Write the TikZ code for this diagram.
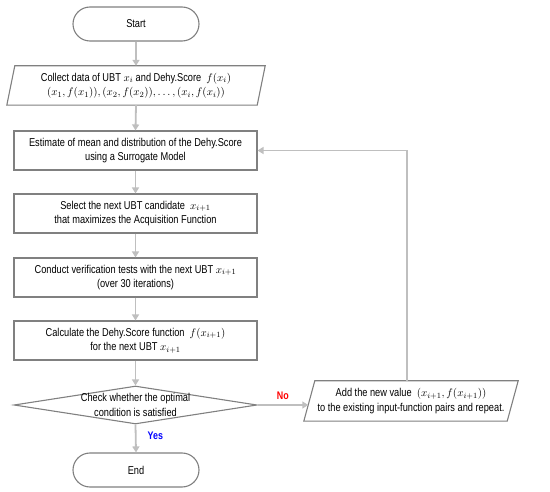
\documentclass[tikz,border=0pt]{standalone}
\usepackage{fontspec}
\setmainfont{Liberation Sans}[FakeStretch=0.81]
\usetikzlibrary{arrows.meta,shapes.geometric,calc}
\definecolor{boxgray}{RGB}{128,128,128}
\definecolor{arrgray}{RGB}{191,191,191}
\begin{document}
\begin{tikzpicture}[x=1pt,y=-1pt,
  every node/.style={font=\fontsize{11.4}{14.5}\selectfont, align=center, inner sep=0pt},
  procbox/.style={draw=boxgray, line width=1.1pt, minimum width=243pt, minimum height=39pt},
  termbox/.style={draw=boxgray, line width=1.1pt, minimum width=126pt, minimum height=34pt, rounded corners=17pt},
  databox/.style={minimum height=39pt},
  shapeline/.style={draw=boxgray, line width=1.1pt},
  flow/.style={draw=arrgray, line width=1.8pt, -{Triangle[width=7pt,length=6pt]}},
  decbox/.style={draw=boxgray, line width=1.1pt, shape=diamond, aspect=6.4, minimum width=243pt, minimum height=38pt},
  lbl/.style={font=\fontsize{11}{12}\selectfont\bfseries}
]
\useasboundingbox (0,0) rectangle (550,492);

\node[termbox] (start) at (136,24) {Start};

\node[databox, minimum width=250pt] (p1) at (136,85.5) {Collect data of UBT $x_i$ and Dehy.Score \ $f(x_i)$\\ $(x_1,f(x_1)),(x_2,f(x_2)),\ldots,(x_i,f(x_i))$};
\draw[shapeline] ([xshift=-4pt]p1.south west) -- ([xshift=4pt]p1.north west) -- ([xshift=4pt]p1.north east) -- ([xshift=-4pt]p1.south east) -- cycle;

\node[procbox] (r1) at (135.5,150.5) {Estimate of mean and distribution of the Dehy.Score\\ using a Surrogate Model};
\node[procbox] (r2) at (135.5,213.5) {Select the next UBT candidate \ $x_{i+1}$\\ that maximizes the Acquisition Function};
\node[procbox] (r3) at (135.5,277.5) {Conduct verification tests with the next UBT $x_{i+1}$\\ (over 30 iterations)};
\node[procbox] (r4) at (135.5,340.5) {Calculate the Dehy.Score function \ $f(x_{i+1})$\\ for the next UBT $x_{i+1}$};

\node[decbox] (dec) at (135.5,405) {};
\node (dectext) at (dec.center) {Check whether the optimal\\ condition is satisfied};

\node[termbox] (end) at (136,470) {End};

\node[databox, minimum width=203pt, minimum height=40pt] (p2) at (411,401) {Add the new value \ $(x_{i+1},f(x_{i+1}))$\\ to the existing input-function pairs and repeat.};
\draw[shapeline] ([xshift=-5.5pt]p2.south west) -- ([xshift=5.5pt]p2.north west) -- ([xshift=5.5pt]p2.north east) -- ([xshift=-5.5pt]p2.south east) -- cycle;

\draw[flow] (start.south) -- (p1.north);
\draw[flow] (p1.south) -- (r1.north);
\draw[flow] (r1.south) -- (r2.north);
\draw[flow] (r2.south) -- (r3.north);
\draw[flow] (r3.south) -- (r4.north);
\draw[flow] (r4.south) -- (dec.north);
\draw[flow] (dec.south) -- node[right=11pt, pos=0.4, text=blue, lbl] (yes) {Yes} (end.north);
\draw[flow] (dec.east) -- node[above=4pt, pos=0.5, text=red, lbl] (no) {No} ([xshift=-1pt]dec.east -| p2.west);
\draw[flow] ([xshift=-4pt]p2.north) |- (r1.east);
\end{tikzpicture}
\end{document}
